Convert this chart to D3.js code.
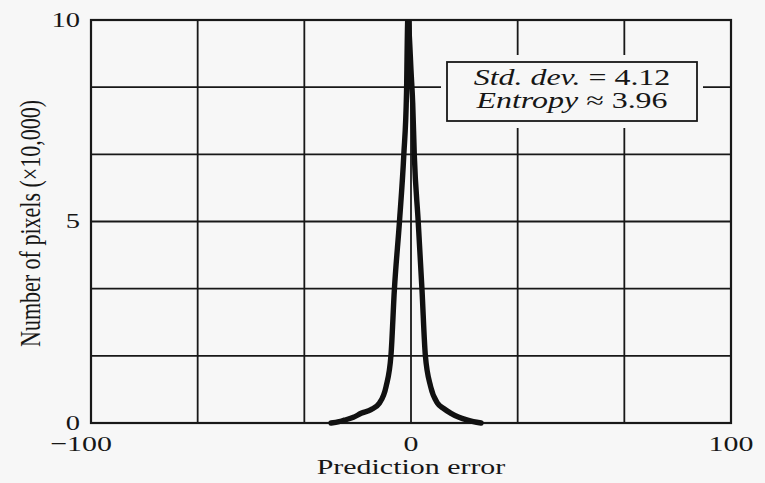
<!DOCTYPE html>
<html>
<head>
<meta charset="utf-8">
<script src="https://cdn.jsdelivr.net/npm/d3@7/dist/d3.min.js"></script>
<style>
  html, body { margin: 0; padding: 0; background: #f7f7f7; }
  svg { display: block; }
  text { font-family: "Liberation Serif", "Times New Roman", serif; fill: #161616; }
</style>
</head>
<body>
<svg id="chart" width="765" height="483"></svg>
<script>
// Histogram of prediction errors (pixel counts in units of 10,000)
const predictionError = [-25, -22.5, -20.9, -18, -15.6, -12.5, -9.9, -7.8, -6.25, -5.2, -3.6, -2.25, -1.4, -1.0,
                         0.1, 0.53, 1.03, 2.25, 3.44, 4.47, 6.15, 8.3, 10.2, 12.5, 15, 17.7, 19.5, 21.9];
const pixelCount = [0, 0.035, 0.07, 0.14, 0.24, 0.33, 0.49, 0.9, 1.69, 3.3, 5.0, 6.65, 8.2, 10,
                    8.6, 7.94, 6.65, 5.0, 3.3, 1.69, 0.9, 0.49, 0.36, 0.24, 0.14, 0.07, 0.035, 0];

const xDomain = [-100, 100];
const yDomain = [0, 10];
const xGridCount = 6;
const yGridCount = 6;
const xTickLabels = [-100, 0, 100];
const yTickLabels = [0, 5, 10];
const xTitle = "Prediction error";
const yTitle = "Number of pixels (\u00d710,000)";
const statNames = ["Std. dev.", "Entropy"];
const statSymbols = ["=", "\u2248"];
const statValues = ["4.12", "3.96"];

const svg = d3.select("#chart");
const W = 765, H = 483;
svg.append("rect").attr("width", W).attr("height", H).attr("fill", "#f7f7f7");

const plot = { left: 91, right: 731, top: 20, bottom: 423 };
const x = d3.scaleLinear().domain(xDomain).range([plot.left, plot.right]);
const y = d3.scaleLinear().domain(yDomain).range([plot.bottom, plot.top]);

// the print type is slightly wide; widen glyphs horizontally
const stretch = 1.36;
const ink = "#181818";

// grid lines
const xGrid = d3.range(xGridCount + 1).map(i => xDomain[0] + i * (xDomain[1] - xDomain[0]) / xGridCount);
const yGrid = d3.range(yGridCount + 1).map(i => yDomain[0] + i * (yDomain[1] - yDomain[0]) / yGridCount);

const grid = svg.append("g").attr("stroke", ink).attr("stroke-width", 1.8).attr("fill", "none");
grid.selectAll("line.v").data(xGrid).join("line")
  .attr("class", "v")
  .attr("x1", d => x(d)).attr("x2", d => x(d))
  .attr("y1", y(yDomain[0])).attr("y2", y(yDomain[1]));
grid.selectAll("line.h").data(yGrid).join("line")
  .attr("class", "h")
  .attr("x1", x(xDomain[0])).attr("x2", x(xDomain[1]))
  .attr("y1", d => y(d)).attr("y2", d => y(d));

// outer frame slightly heavier
svg.append("rect")
  .attr("x", x(xDomain[0])).attr("y", y(yDomain[1]))
  .attr("width", x(xDomain[1]) - x(xDomain[0]))
  .attr("height", y(yDomain[0]) - y(yDomain[1]))
  .attr("fill", "none").attr("stroke", ink).attr("stroke-width", 2.2);

// error distribution curve
svg.append("clipPath").attr("id", "plotClip")
  .append("rect")
  .attr("x", plot.left).attr("y", plot.top)
  .attr("width", plot.right - plot.left).attr("height", plot.bottom - plot.top + 4);

const points = predictionError.map((e, i) => [e, pixelCount[i]]);
const line = d3.line()
  .x(d => x(d[0]))
  .y(d => y(d[1]))
  .curve(d3.curveMonotoneX);

svg.append("path")
  .datum(points)
  .attr("clip-path", "url(#plotClip)")
  .attr("d", line)
  .attr("fill", "none")
  .attr("stroke", "#111")
  .attr("stroke-width", 5.4)
  .attr("stroke-linejoin", "round")
  .attr("stroke-linecap", "round");

// statistics box
const box = { x: 447, y: 62, w: 250, h: 59, pad: 6 };
svg.append("rect")
  .attr("x", box.x - box.pad).attr("y", box.y - box.pad - 1)
  .attr("width", box.w + 2 * box.pad).attr("height", box.h + 2 * box.pad + 2)
  .attr("fill", "#f7f7f7");
svg.append("rect")
  .attr("x", box.x).attr("y", box.y).attr("width", box.w).attr("height", box.h)
  .attr("fill", "#f7f7f7").attr("stroke", ink).attr("stroke-width", 1.8);

const statBaselines = [85, 108];
statNames.forEach((name, i) => {
  const t = svg.append("text")
    .attr("transform", `translate(${box.x + box.w / 2},${statBaselines[i]}) scale(1.42,1)`)
    .attr("text-anchor", "middle")
    .attr("font-size", 22.5);
  t.append("tspan").attr("font-style", "italic").text(name);
  t.append("tspan").text(` ${statSymbols[i]} ${statValues[i]}`);
});

// tick labels
const fmt = v => (v < 0 ? "\u2212" : "") + Math.abs(v);
svg.selectAll("text.xtick").data(xTickLabels).join("text")
  .attr("class", "xtick")
  .attr("text-anchor", "middle")
  .attr("font-size", 22)
  .attr("transform", d => `translate(${x(d) + (d < 0 ? -10 : 0)},451) scale(${stretch},1)`)
  .text(fmt);

svg.selectAll("text.ytick").data(yTickLabels).join("text")
  .attr("class", "ytick")
  .attr("text-anchor", "end")
  .attr("font-size", 21)
  .attr("transform", d => `translate(80,${y(d) + 6.5}) scale(${stretch},1)`)
  .text(fmt);

// axis titles
svg.append("text")
  .attr("text-anchor", "middle")
  .attr("font-size", 22)
  .attr("transform", `translate(${x(0)},474) scale(${stretch},1)`)
  .text(xTitle);

svg.append("text")
  .attr("text-anchor", "middle")
  .attr("font-size", 22)
  .attr("transform", `translate(40,${(plot.top + plot.bottom) / 2 + 2}) rotate(-90) scale(1,${stretch})`)
  .text(yTitle);
</script>
</body>
</html>
